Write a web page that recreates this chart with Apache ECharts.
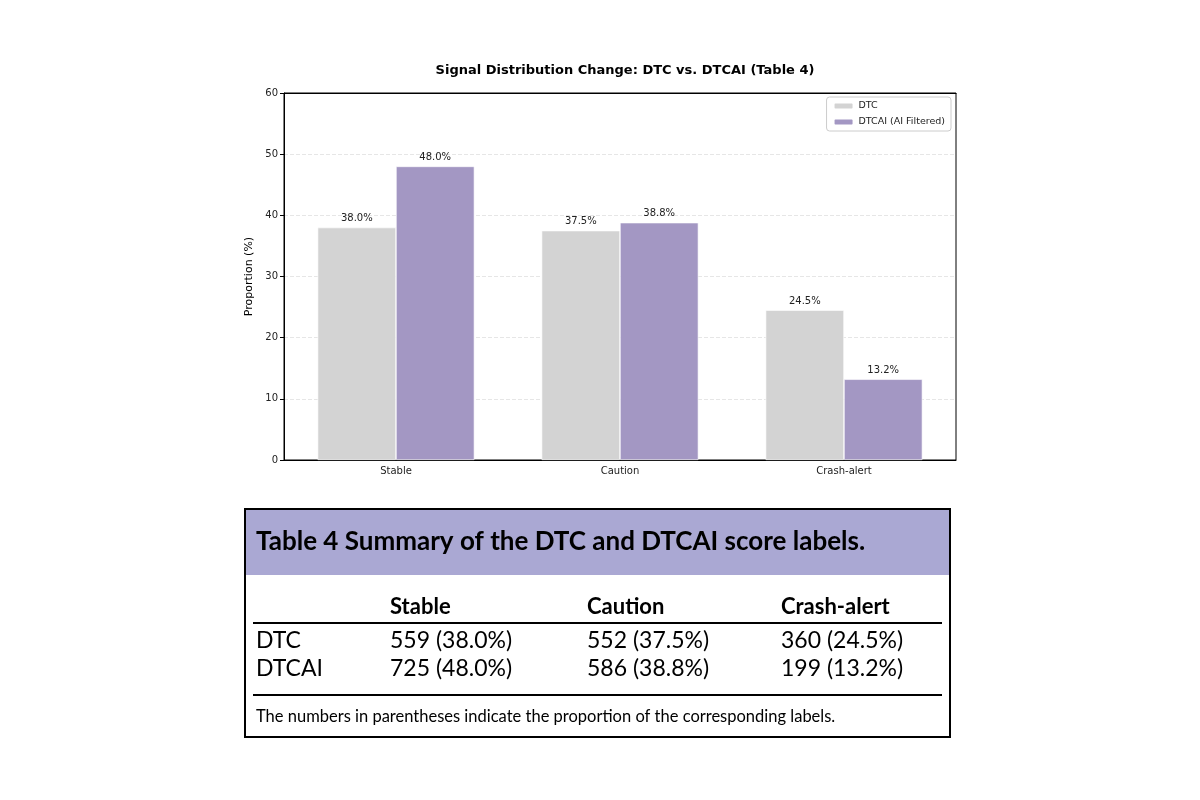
<!DOCTYPE html>
<html>
<head>
<meta charset="utf-8">
<script src="https://cdn.jsdelivr.net/npm/echarts@6/dist/echarts.min.js"></script>
<style>
  html, body { margin: 0; padding: 0; background: #fff; }
  #main { width: 1200px; height: 800px; }
</style>
</head>
<body>
<div id="main"></div>
<script>
// data
var categories = ['Stable', 'Caution', 'Crash-alert'];
var dtcValues = [38.0, 37.5, 24.5];
var dtcaiValues = [48.0, 38.8, 13.2];
var dtcCounts = [559, 552, 360];
var dtcaiCounts = [725, 586, 199];
var rowNames = ['DTC', 'DTCAI'];

var chartDom = document.getElementById('main');
var myChart = echarts.init(chartDom);
var option;

var tblFont = 'Lato, "Open Sans", sans-serif';
var colX = [256, 390, 587, 781];

// table built from the arrays above
var tableItems = [
    { type: 'rect', shape: { x: 245, y: 509, width: 705, height: 228 },
      style: { fill: '#fff', stroke: '#000', lineWidth: 2 } },
    { type: 'rect', shape: { x: 246, y: 510, width: 703, height: 65 },
      style: { fill: '#aaa8d3' } },
    { type: 'text', x: 256, y: 542,
      style: { text: 'Table 4 Summary of the DTC and DTCAI score labels.', font: 'bold 26px ' + tblFont,
               fill: '#000', verticalAlign: 'middle' } },
    { type: 'line', shape: { x1: 253, y1: 623, x2: 942, y2: 623 }, style: { stroke: '#000', lineWidth: 2 } },
    { type: 'line', shape: { x1: 253, y1: 695, x2: 942, y2: 695 }, style: { stroke: '#000', lineWidth: 2 } },
    { type: 'text', x: 256, y: 717,
      style: { text: 'The numbers in parentheses indicate the proportion of the corresponding labels.',
               font: '16.5px ' + tblFont, fill: '#000', verticalAlign: 'middle' } }
];
categories.forEach(function (c, i) {
    tableItems.push({ type: 'text', x: colX[i + 1], y: 607,
        style: { text: c, font: 'bold 22px ' + tblFont, fill: '#000', verticalAlign: 'middle' } });
});
[[dtcCounts, dtcValues], [dtcaiCounts, dtcaiValues]].forEach(function (row, r) {
    var y = 641 + r * 28;
    tableItems.push({ type: 'text', x: colX[0], y: y,
        style: { text: rowNames[r], font: '23px ' + tblFont, fill: '#000', verticalAlign: 'middle' } });
    row[0].forEach(function (n, i) {
        tableItems.push({ type: 'text', x: colX[i + 1], y: y,
            style: { text: n + ' (' + row[1][i].toFixed(1) + '%)', font: '23px ' + tblFont,
                     fill: '#000', verticalAlign: 'middle' } });
    });
});

var labelStyle = {
    show: true,
    position: 'top',
    distance: 4,
    fontSize: 10,
    color: '#222',
    fontFamily: 'DejaVu Sans',
    formatter: function (p) { return p.value.toFixed(1) + '%'; }
};

option = {
    animation: false,
    backgroundColor: '#fff',
    textStyle: { fontFamily: 'DejaVu Sans' },
    title: {
        text: 'Signal Distribution Change: DTC vs. DTCAI (Table 4)',
        left: 620,
        textAlign: 'center',
        top: 59,
        textStyle: { fontSize: 13, fontWeight: 'bold', color: '#000', fontFamily: 'DejaVu Sans' }
    },
    legend: {
        orient: 'vertical',
        right: 249,
        top: 97,
        itemWidth: 20,
        itemHeight: 7,
        itemGap: 6,
        padding: [4, 6, 4, 6],
        borderColor: '#ccc',
        borderWidth: 1,
        borderRadius: 3,
        textStyle: { fontSize: 9.5, color: '#222' },
        data: ['DTC', 'DTCAI (AI Filtered)']
    },
    grid: {
        left: 284, right: 244, top: 93, bottom: 340,
        show: true, borderColor: '#000', borderWidth: 1
    },
    xAxis: [{
        type: 'category',
        data: categories,
        axisLine: { lineStyle: { color: '#000' } },
        axisTick: { alignWithLabel: true, length: 4, lineStyle: { color: '#000' } },
        axisLabel: { fontSize: 10, color: '#222', margin: 6 }
    }, {
        // top spine
        type: 'category',
        position: 'top',
        data: categories,
        axisLine: { show: true, lineStyle: { color: '#000' } },
        axisTick: { show: false },
        axisLabel: { show: false }
    }],
    yAxis: {
        type: 'value',
        min: 0, max: 60, interval: 10,
        name: 'Proportion (%)',
        nameLocation: 'middle',
        nameGap: 27,
        nameTextStyle: { fontSize: 11, color: '#000' },
        axisLine: { show: true, lineStyle: { color: '#000' } },
        axisTick: { show: true, length: 4, lineStyle: { color: '#000' } },
        axisLabel: { fontSize: 10, color: '#222', margin: 6 },
        splitLine: { lineStyle: { type: 'dashed', color: '#e6e6e6' } }
    },
    series: [
        {
            name: 'DTC', type: 'bar', data: dtcValues,
            barGap: '0%', barCategoryGap: '30%',
            itemStyle: { color: '#d3d3d3', borderColor: '#fff', borderWidth: 0.6 },
            label: labelStyle
        },
        {
            name: 'DTCAI (AI Filtered)', type: 'bar', data: dtcaiValues,
            barGap: '0%', barCategoryGap: '30%',
            itemStyle: { color: '#a397c3', borderColor: '#fff', borderWidth: 0.6 },
            label: labelStyle
        }
    ],
    graphic: tableItems
};

option && myChart.setOption(option);
</script>
</body>
</html>
